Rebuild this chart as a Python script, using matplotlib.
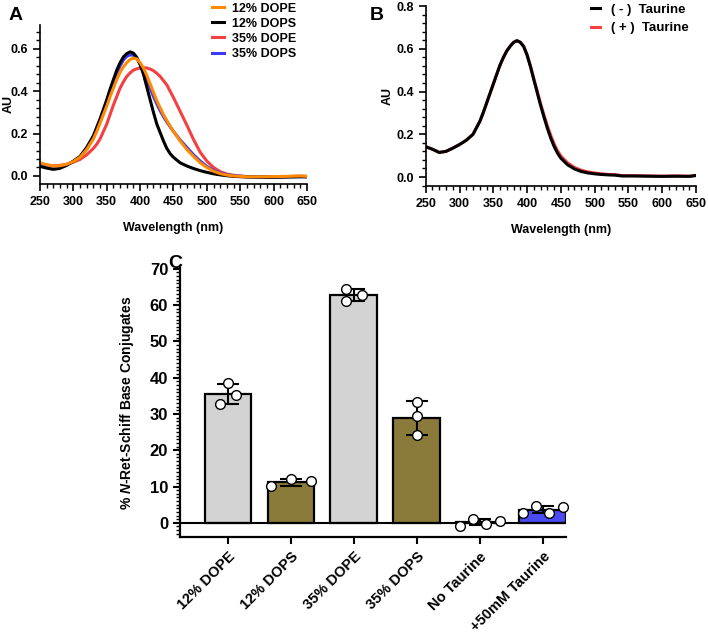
import numpy as np
import matplotlib
matplotlib.use('Agg')
import matplotlib.pyplot as plt
from matplotlib.ticker import MultipleLocator, FormatStrFormatter

plt.rcParams['font.family'] = ['Liberation Sans', 'DejaVu Sans']
plt.rcParams['font.weight'] = 'bold'
plt.rcParams['mathtext.fontset'] = 'custom'
plt.rcParams['mathtext.it'] = 'Liberation Sans:italic:bold'
plt.rcParams['mathtext.rm'] = 'Liberation Sans:bold'

# ---- panel A data (absorbance spectra) ----
wl = [250, 260, 270, 280, 290, 300, 310, 320,
      330, 335, 340, 345, 350, 355, 360, 365, 370, 375, 380, 385, 390, 395, 400,
      405, 410, 415, 420, 425, 430, 435, 440, 445, 450,
      460, 470, 480, 490, 500, 510, 520, 530, 540,
      560, 580, 600, 620, 640, 650]
dope12 = [0.062, 0.053, 0.046, 0.048, 0.055, 0.068, 0.088, 0.125,
          0.175, 0.21, 0.25, 0.29, 0.33, 0.375, 0.415, 0.455, 0.49, 0.515, 0.535, 0.55, 0.556, 0.553, 0.535,
          0.51, 0.475, 0.435, 0.395, 0.355, 0.322, 0.29, 0.262, 0.235, 0.21,
          0.165, 0.125, 0.092, 0.062, 0.04, 0.022, 0.011, 0.004, 0.0,
          -0.004, -0.004, -0.003, -0.002, 0.0, -0.002]
dops12 = [0.045, 0.037, 0.031, 0.036, 0.05, 0.07, 0.092, 0.135,
          0.19, 0.23, 0.27, 0.315, 0.36, 0.41, 0.455, 0.5, 0.535, 0.562, 0.578, 0.586, 0.58, 0.56, 0.525,
          0.48, 0.42, 0.36, 0.3, 0.245, 0.205, 0.165, 0.13, 0.105, 0.088,
          0.062, 0.047, 0.035, 0.025, 0.017, 0.01, 0.005, 0.001, -0.002,
          -0.005, -0.006, -0.006, -0.005, -0.004, -0.004]
dope35 = [0.058, 0.052, 0.047, 0.05, 0.055, 0.065, 0.078, 0.1,
          0.13, 0.15, 0.175, 0.21, 0.245, 0.29, 0.335, 0.375, 0.415, 0.445, 0.47, 0.487, 0.5, 0.506, 0.51,
          0.511, 0.51, 0.505, 0.497, 0.485, 0.47, 0.45, 0.43, 0.4, 0.37,
          0.305, 0.24, 0.172, 0.112, 0.07, 0.04, 0.02, 0.009, 0.003,
          -0.003, -0.004, -0.004, -0.003, -0.001, -0.002]
dops35 = [0.055, 0.048, 0.04, 0.043, 0.053, 0.068, 0.09, 0.128,
          0.18, 0.22, 0.26, 0.3, 0.345, 0.393, 0.44, 0.485, 0.52, 0.548, 0.565, 0.572, 0.57, 0.555, 0.53,
          0.495, 0.455, 0.415, 0.375, 0.34, 0.308, 0.28, 0.255, 0.232, 0.21,
          0.17, 0.135, 0.1, 0.07, 0.045, 0.026, 0.014, 0.006, 0.001,
          -0.004, -0.005, -0.005, -0.004, -0.003, -0.004]

# ---- panel B data ----
taurine_minus = [0.142, 0.13, 0.115, 0.12, 0.135, 0.152, 0.172, 0.2,
                 0.26, 0.3, 0.345, 0.39, 0.435, 0.48, 0.524, 0.56, 0.59, 0.612, 0.63, 0.638, 0.63, 0.61, 0.57,
                 0.516, 0.455, 0.395, 0.335, 0.28, 0.228, 0.182, 0.143, 0.112, 0.088,
                 0.057, 0.038, 0.026, 0.019, 0.015, 0.012, 0.01, 0.009, 0.005,
                 0.005, 0.004, 0.003, 0.004, 0.003, 0.007]
taurine_plus = [0.142, 0.13, 0.115, 0.12, 0.135, 0.152, 0.172, 0.2,
                0.26, 0.3, 0.345, 0.39, 0.435, 0.48, 0.524, 0.56, 0.59, 0.612, 0.63, 0.638, 0.631, 0.612, 0.573,
                0.52, 0.46, 0.402, 0.343, 0.29, 0.24, 0.195, 0.155, 0.123, 0.098,
                0.066, 0.045, 0.032, 0.024, 0.019, 0.015, 0.012, 0.011, 0.007,
                0.006, 0.005, 0.004, 0.005, 0.004, 0.008]

# ---- panel C data ----
groups = ['12% DOPE', '12% DOPS', '35% DOPE', '35% DOPS', 'No Taurine', '+50mM Taurine']
replicates = [
    [38.5, 35.2, 32.8],
    [10.1, 12.0, 11.4],
    [64.5, 61.0, 62.8],
    [33.3, 29.4, 24.1],
    [-0.8, 1.1, -0.2, 0.5],
    [2.75, 4.7, 2.75, 4.4],
]
jitter = [
    [0.0, 0.13, -0.13],
    [-0.32, 0.0, 0.32],
    [-0.13, -0.13, 0.13],
    [0.0, 0.0, 0.0],
    [-0.32, -0.1, 0.1, 0.32],
    [-0.32, -0.1, 0.1, 0.32],
]
bar_colors = ['#d3d3d3', '#8b7b3a', '#d3d3d3', '#8b7b3a', '#d3d3d3', '#4b4bf5']

fig = plt.figure(figsize=(7.08, 6.34), dpi=100)


def style_spec(ax):
    for s in ['top', 'right']:
        ax.spines[s].set_visible(False)
    for s in ['left', 'bottom']:
        ax.spines[s].set_linewidth(1.2)
    ax.set_xlim(250, 650)
    ax.xaxis.set_major_locator(MultipleLocator(50))
    ax.xaxis.set_minor_locator(MultipleLocator(10))
    ax.yaxis.set_major_locator(MultipleLocator(0.2))
    ax.yaxis.set_minor_locator(MultipleLocator(0.04))
    ax.yaxis.set_major_formatter(FormatStrFormatter('%.1f'))
    ax.tick_params(which='major', length=5, width=1.2, labelsize=9)
    ax.tick_params(which='minor', length=3, width=1.0)
    ax.set_xlabel('Wavelength (nm)', fontsize=9, fontweight='bold', labelpad=10)
    ax.set_ylabel('AU', fontsize=9, fontweight='bold')


# Panel A
axA = fig.add_axes([0.0565, 0.7098, 0.3771, 0.2508])
axA.plot(wl, dope35, color='#f44040', lw=2.2, label='35% DOPE')
axA.plot(wl, dops35, color='#3a3af5', lw=2.2, label='35% DOPS')
axA.plot(wl, dops12, color='black', lw=2.2, label='12% DOPS')
axA.plot(wl, dope12, color='#ff8a00', lw=2.2, label='12% DOPE')
axA.set_ylim(-0.038, 0.713)
style_spec(axA)
axA.yaxis.set_label_coords(-0.094, 0.5)
h, l = axA.get_legend_handles_labels()
order = [3, 2, 0, 1]
axA.legend([h[i] for i in order], [l[i] for i in order], loc='upper left',
           bbox_to_anchor=(0.3, 0.996), bbox_transform=fig.transFigure, frameon=False,
           handlelength=0.9, handletextpad=0.7, labelspacing=0.25,
           borderpad=0, borderaxespad=0, prop={'weight': 'bold', 'size': 9})

# Panel B
axB = fig.add_axes([0.6013, 0.7066, 0.3818, 0.2839])
axB.plot(wl, taurine_plus, color='#f44040', lw=2.2, label='( + )  Taurine')
axB.plot(wl, taurine_minus, color='black', lw=2.2, label='( - )  Taurine')
axB.set_ylim(-0.042, 0.8)
style_spec(axB)
axB.yaxis.set_label_coords(-0.118, 0.5)
h, l = axB.get_legend_handles_labels()
axB.legend([h[1], h[0]], [l[1], l[0]], loc='upper left',
           bbox_to_anchor=(0.835, 0.994), bbox_transform=fig.transFigure, frameon=False,
           handlelength=0.7, handletextpad=0.8, labelspacing=0.45,
           borderpad=0, borderaxespad=0, prop={'weight': 'bold', 'size': 9.5})

# Panel C
axC = fig.add_axes([0.2542, 0.153, 0.5452, 0.4243])
x = np.arange(len(groups))
means = [np.mean(r) for r in replicates]
sds = [np.std(r, ddof=1) for r in replicates]
axC.bar(x, means, width=0.74, color=bar_colors, edgecolor='black', linewidth=1.6, zorder=2)
axC.errorbar(x, means, yerr=sds, fmt='none', ecolor='black', elinewidth=1.5,
             capsize=8, capthick=1.5, zorder=3)
for i, r in enumerate(replicates):
    axC.plot(x[i] + np.array(jitter[i]), r, 'o', ms=7, mfc='white', mec='black',
             mew=1.0, zorder=4, clip_on=False)
axC.axhline(0, color='black', lw=1.5, zorder=3)
axC.set_xlim(-0.76, 5.37)
axC.set_ylim(-3.9, 70.2)
for s in ['top', 'right']:
    axC.spines[s].set_visible(False)
for s in ['left', 'bottom']:
    axC.spines[s].set_linewidth(1.6)
axC.yaxis.set_major_locator(MultipleLocator(10))
axC.yaxis.set_minor_locator(MultipleLocator(1))
axC.set_xticks(x)
axC.set_xticklabels(groups, rotation=45, ha='right', rotation_mode='anchor',
                    fontsize=10.5, fontweight='bold')
axC.tick_params(axis='y', which='major', length=5, width=1.5, labelsize=12)
axC.tick_params(axis='y', which='minor', length=3, width=1.0)
axC.tick_params(axis='x', which='major', length=5, width=1.5, pad=4)
axC.set_ylabel(r'% $\mathit{N}$-Ret-Schiff Base Conjugates', fontsize=10,
               fontweight='bold', labelpad=10)

fig.text(0.012, 0.975, 'A', fontsize=14, fontweight='bold', va='center')
fig.text(0.522, 0.975, 'B', fontsize=14, fontweight='bold', va='center')
fig.text(0.237, 0.585, 'C', fontsize=14, fontweight='bold', va='center')

fig.savefig('out.png', dpi=100)
